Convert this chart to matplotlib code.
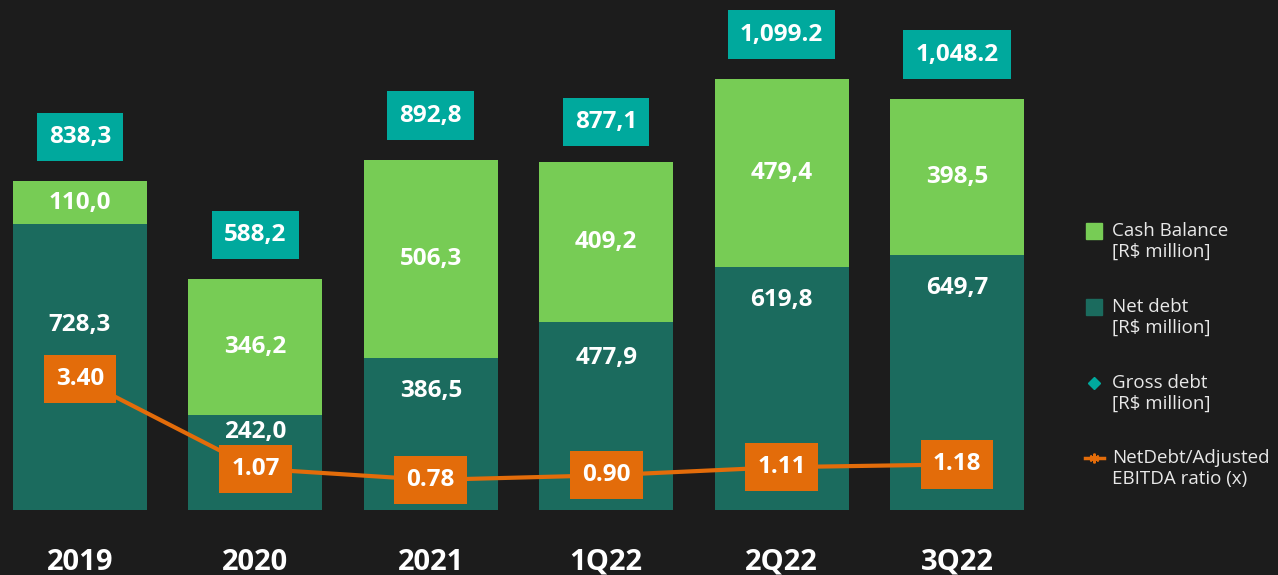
import matplotlib.pyplot as plt

plt.rcParams["font.family"] = ["Open Sans", "DejaVu Sans"]

periods = ["2019", "2020", "2021", "1Q22", "2Q22", "3Q22"]
net_debt = [728.3, 242.0, 386.5, 477.9, 619.8, 649.7]
cash_balance = [110.0, 346.2, 506.3, 409.2, 479.4, 398.5]
gross_debt = [838.3, 588.2, 892.8, 877.1, 1099.2, 1048.2]
leverage = [3.40, 1.07, 0.78, 0.90, 1.11, 1.18]

net_labels = ["728,3", "242,0", "386,5", "477,9", "619,8", "649,7"]
cash_labels = ["110,0", "346,2", "506,3", "409,2", "479,4", "398,5"]
gross_labels = ["838,3", "588,2", "892,8", "877,1", "1,099.2", "1,048.2"]

legend_labels = [
    "Cash Balance\n[R$ million]",
    "Net debt\n[R$ million]",
    "Gross debt\n[R$ million]",
    "NetDebt/Adjusted\nEBITDA ratio (x)",
]

# how far below the top of the net debt segment its label sits (data units)
net_label_drop = [257, 43, 83, 91, 85, 84]

BG = "#1c1c1c"
CASH = "#77cc55"
NET = "#1b6b5e"
GROSS = "#00a99d"
ORANGE = "#e36c0a"

fig = plt.figure(figsize=(12.78, 5.75), dpi=100)
fig.patch.set_facecolor(BG)

ax = fig.add_axes([0, 65 / 575, 1, 510 / 575])
ax.set_facecolor("none")
x = list(range(len(periods)))

ax.bar(x, net_debt, width=0.764, color=NET, zorder=2)
ax.bar(x, cash_balance, width=0.764, bottom=net_debt, color=CASH, zorder=2)

for xi, nd, cb, g, nl, cl, gl, drop in zip(
    x, net_debt, cash_balance, gross_debt, net_labels, cash_labels, gross_labels, net_label_drop
):
    ax.text(xi, nd - drop, nl, ha="center", va="center", color="white",
            fontsize=17.5, fontweight="bold", zorder=3)
    ax.text(xi, nd + cb / 2, cl, ha="center", va="center", color="white",
            fontsize=17.5, fontweight="bold", zorder=3)
    ax.text(xi, g + 112, gl, ha="center", va="center", color="white",
            fontsize=17.5, fontweight="bold", zorder=3,
            bbox=dict(boxstyle="square,pad=0.5", fc=GROSS, ec="none"))

ax.set_xlim(-80 / 175.4, (1278 - 80) / 175.4)
ax.set_ylim(0, 510 / 0.3925)
ax.set_xticks(x, periods)
ax.tick_params(axis="x", length=0, pad=27, labelsize=21, labelcolor="white")
for lbl in ax.get_xticklabels():
    lbl.set_fontweight("bold")
ax.set_yticks([])
for spine in ax.spines.values():
    spine.set_visible(False)

ax2 = ax.twinx()
ax2.set_ylim(0, 510 / 38.6)
ax2.plot(x, leverage, color=ORANGE, linewidth=3, zorder=2)
for xi, v in zip(x, leverage):
    ax2.text(xi, v, f"{v:.2f}", ha="center", va="center", color="white",
             fontsize=17.5, fontweight="bold", zorder=3,
             bbox=dict(boxstyle="square,pad=0.5", fc=ORANGE, ec="none"))
ax2.set_yticks([])
for spine in ax2.spines.values():
    spine.set_visible(False)

# legend drawn in pixel coordinates
lax = fig.add_axes([0, 0, 1, 1])
lax.set_xlim(0, 1278)
lax.set_ylim(575, 0)
lax.axis("off")

ys = [231, 307, 383, 458]
lax.plot(1094, ys[0], marker="s", markersize=12, color=CASH, linestyle="none")
lax.plot(1094, ys[1], marker="s", markersize=12, color=NET, linestyle="none")
lax.plot(1094, ys[2], marker="D", markersize=6, color=GROSS, linestyle="none")
lax.plot([1085, 1104], [ys[3], ys[3]], color=ORANGE, linewidth=2.5)
lax.plot(1094, ys[3], marker=(6, 2, 0), markersize=7, color=ORANGE, mew=1.5)
for y, label in zip(ys, legend_labels):
    lax.text(1112, y - 9, label, ha="left", va="top", color="#e8e8e8",
             fontsize=13.5, linespacing=1.2)

fig.savefig("out.png", dpi=100, facecolor=BG)
